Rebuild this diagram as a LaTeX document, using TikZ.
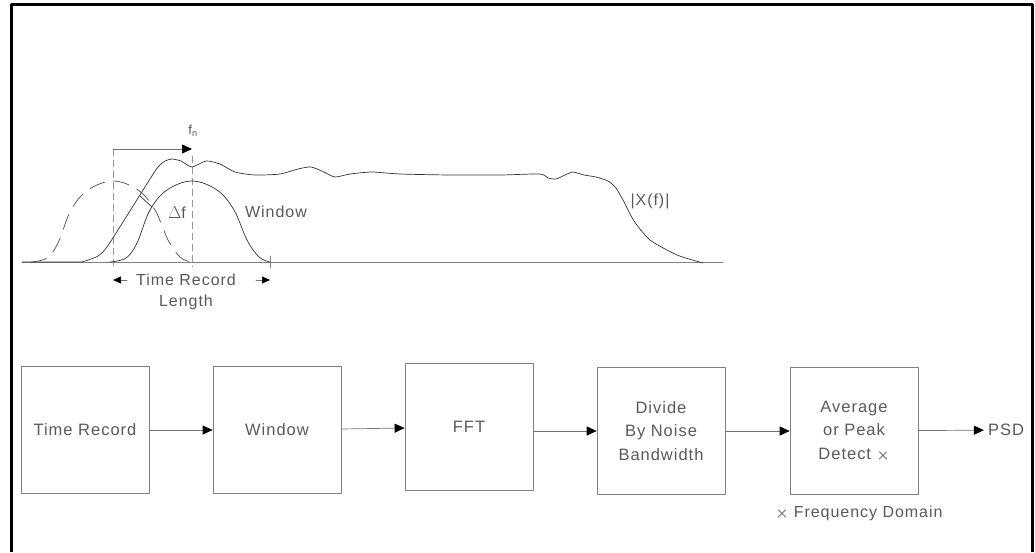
\documentclass[tikz,border=0pt]{standalone}
\usepackage{fontspec}
\setmainfont{Liberation Sans}[LetterSpace=6]
\usetikzlibrary{arrows.meta}
\begin{document}
\begin{tikzpicture}[x=1pt, y=-1pt, line join=round, line cap=round,
  >={Triangle[length=10pt, width=9pt, color=black]},
  lbl/.style={text=black!65, font=\fontsize{16}{20}\selectfont, inner sep=0pt},
  blok/.style={draw=black!50, line width=0.7pt, minimum width=128pt, minimum height=127pt,
    inner sep=0pt, align=center, text=black!65, font=\fontsize{16.5}{23.5}\selectfont},
  link/.style={draw=black!55, line width=0.7pt, ->},
  guide/.style={draw=black!40, line width=0.6pt, dash pattern=on 7pt off 4pt}]
\useasboundingbox (0,0) rectangle (1035,552);
% ==========================================
% frame
\draw[line width=3pt, line cap=butt] (11,552) -- (11,4) -- (1032,4) -- (1032,552);
% ==========================================
% axis and guides
\draw[black!50, line width=0.7pt] (22,262) -- (723,262);
\coordinate (ga) at (113,149);
\coordinate (gb) at (192,149);
\draw[guide] (ga) -- (113,267);
\draw[guide] (192,156) -- (192,267);
\draw[black!50, line width=0.6pt] (270,256) -- (270,268);
\draw[link] (ga) -- (gb);
\node[lbl, font=\fontsize{13}{15}\selectfont] (fn) at (193,131) {f$_{\mathrm{n}}$};
% |X(f)|
\draw[black!80, line width=0.7pt] (22,262) -- (82,262)
  plot[smooth, tension=0.4] coordinates {(82,262) (98,256) (109,244) (150,179) (158,167)
  (165,161) (172,159) (181,161) (192,167) (206,161) (220,164) (235,172) (255,175) (280,174) (298,169)
  (311,167) (324,172) (335,177) (350,174) (372,172) (400,174) (450,175) (500,175)
  (540,174) (548,178) (556,179) (565,175) (573,172) (584,175) (596,177) (608,181)
  (616,188) (623,200) (634,221) (650,240) (677,255) (703,263)};
% window and shifted window
\draw[black!80, line width=0.7pt] plot[smooth, tension=0.6] coordinates {(110,262) (126,258)
  (137,243) (150,210) (167,190) (192,181) (217,190) (234,210) (247,240) (259,257) (270,262)};
\draw[black!70, line width=0.7pt, dash pattern=on 16pt off 9pt, xshift=-79pt]
  plot[smooth, tension=0.6] coordinates {(110,262) (126,258)
  (137,243) (150,210) (167,190) (192,181) (217,190) (234,210) (247,240) (259,257) (270,262)};
\draw[black!80, line width=0.7pt] (140,196) -- (152,207);
\node[lbl] (df) at (177,213) {$\Delta$f};
\node[lbl] (wl) at (276,212) {Window};
\node[lbl] (xl) at (650,201) {|X(f)|};
% time record length
\node[lbl] (trl) at (186,280) {Time Record};
\node[lbl] (len) at (186,302) {Length};
\coordinate (tl) at (113,280);
\coordinate (tr) at (270,280);
\coordinate (tla) at (127,280);
\coordinate (tra) at (256,280);
\draw[link, >={Triangle[length=8pt, width=7pt, color=black]}] (tla) -- (tl);
\draw[link, >={Triangle[length=8pt, width=7pt, color=black]}] (tra) -- (tr);
% ==========================================
% block chain
\node[blok] (rec) at (85,430) {Time Record};
\node[blok] (win) at (277,430) {Window};
\node[blok] (fft) at (469,427) {FFT};
\node[blok] (div) at (661,431) {Divide\\By Noise\\Bandwidth};
\node[blok] (avg) at (854,431) {Average\\or Peak\\Detect {\fontsize{14}{14}\selectfont\boldmath$\times$}};
\node[lbl, font=\fontsize{16.5}{20}\selectfont] (psd) at (1006,430) {PSD};
\draw[link] (rec) -- (win);
\draw[link] (win) -- (fft);
\draw[link] (fft.east |- div) -- (div);
\draw[link] (div) -- (avg);
\draw[link, shorten >=4pt] (avg) -- (psd);
\node[lbl] (fd) at (859,513) {{\fontsize{14}{14}\selectfont\boldmath$\times$} Frequency Domain};
\end{tikzpicture}
\end{document}
